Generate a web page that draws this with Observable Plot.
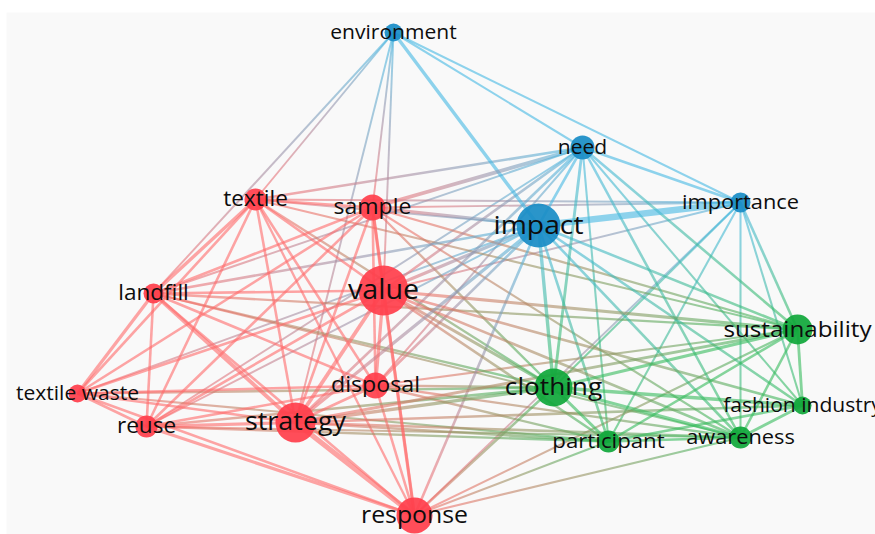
<!DOCTYPE html>
<html><head><meta charset="utf-8">
<script src="https://cdn.jsdelivr.net/npm/d3@7"></script>
<script src="https://cdn.jsdelivr.net/npm/@observablehq/plot@0.6"></script>
<style>
html,body{margin:0;padding:0;background:#fff;overflow:hidden;}
</style>
</head><body><div id="chart"></div>
<script>
// ---- data ----
const names = ["environment","need","importance","impact","textile","sample","value","landfill","disposal","textile waste","reuse","strategy","response","sustainability","clothing","fashion industry","participant","awareness"];
const nodeX = [393,582,740,538,255,372,383,153,375,77,146,295,414,797,553,802,608,740];
const nodeY = [32,147,202,225,199,207,290,293,385,393,426,422,515,329,387,405,441,437];
const nodeR = [9,12,10,22,11,13,25,10,13,9,11,20,18,15,19,9,11,11];
const cluster = ["blue","blue","blue","blue","red","red","red","red","red","red","red","red","red","green","green","green","green","green"];
const labelSize = [19.5,19.5,20.2,26.2,20.9,21.3,26.5,20.9,21.5,19.5,20.9,24.9,23,22.4,24.3,19.5,20.6,20.2];

// edges: source index, target index, link strength (line width)
const edgeSource = [
  0,0,0,1,1,2,
  0,0,0,0,0,
  1,1,1,1,1,1,1,
  2,2,2,2,
  3,3,3,3,3,3,3,3,3,
  1,1,1,1,1,
  2,2,2,2,2,
  3,3,3,3,3,
  4,4,4,4,4,4,4,4,
  5,5,5,5,5,5,5,
  6,6,6,6,6,6,
  7,7,7,7,7,
  8,8,8,8,
  9,9,9,
  10,10,
  11,
  6,6,6,6,6,
  11,11,11,11,11,
  8,8,8,8,
  5,5,5,
  4,4,
  7,7,7,
  9,9,
  10,10,10,
  12,12,12,12,
  13,13,13,13,14,14,14,15,15,16
];
const edgeTarget = [
  1,2,3,3,2,3,
  4,7,5,6,11,
  4,5,7,6,11,8,10,
  4,5,6,12,
  4,5,6,7,8,9,10,11,12,
  13,14,15,16,17,
  13,14,15,16,17,
  13,14,15,16,17,
  5,6,7,8,9,10,11,12,
  6,7,8,9,10,11,12,
  7,8,9,10,11,12,
  8,9,10,11,12,
  9,10,11,12,
  10,11,12,
  11,12,
  12,
  13,14,15,16,17,
  13,14,15,16,17,
  14,16,17,13,
  13,14,17,
  14,13,
  13,14,17,
  14,16,
  14,16,17,
  14,16,17,13,
  14,15,16,17,15,16,17,16,17,17
];
const edgeWidth = [
  1.6,1.6,2.6,2,2,5,
  1.5,1.5,1.5,1.5,1.5,
  2,3,1.5,2,2,1.5,1.5,
  1.5,1.5,1.5,1.5,
  1.5,2.5,2.5,2,2,1.5,1.5,2.5,2,
  2,2.2,1.6,1.6,2,
  2,1.6,1.6,1.6,1.6,
  2,2.6,2,2,2,
  2,2,2.6,2,2,2,2,1.8,
  2.5,2,2,2,2,2,2,
  2,2.5,2,2,3,2.5,
  2,2.5,2,3,2,
  2,2,2.2,2,
  2,2,2,
  2.5,2.5,
  4,
  2.4,2.4,2,2,2,
  2.2,2.6,2,2,2,
  2,1.8,1.8,1.6,
  1.8,1.8,1.6,
  1.8,1.6,
  1.8,1.8,1.6,
  1.8,1.6,
  2,1.8,1.6,
  2,1.6,1.6,1.6,
  2.4,2.2,2,2,2.6,2.4,2.4,2,2.2,2
];

const nodeColor = {red:"#ff3f4c", blue:"#1a8dc6", green:"#11a83b"};
const edgeColor = {red:"#ff6a6a", blue:"#45b8e3", green:"#36bb5c"};

// ---- build tables ----
const nodes = names.map((name,i)=>({name, x:nodeX[i], y:nodeY[i], r:nodeR[i], cluster:cluster[i], fs:labelSize[i]}));
const edges = edgeSource.map((s,i)=>({s, t:edgeTarget[i], w:edgeWidth[i]})).sort((a,b)=>a.w-b.w);

const chart = Plot.plot({
  width:875, height:534,
  marginLeft:6, marginTop:12, marginRight:0, marginBottom:0,
  x:{domain:[6,875], axis:null},
  y:{domain:[12,534], reverse:true, axis:null},
  r:{type:"identity"},
  style:{background:"#fff", fontFamily:"'Open Sans', sans-serif", overflow:"hidden"},
  marks:[
    Plot.frame({fill:"#f9f9f9", stroke:"none"}),
    Plot.link(edges,{
      x1:d=>nodes[d.s].x, y1:d=>nodes[d.s].y,
      x2:d=>nodes[d.t].x, y2:d=>nodes[d.t].y,
      stroke:"#999", strokeWidth:d=>d.w * 1.3, strokeOpacity:0.6
    }),
    Plot.dot(nodes,{x:"x", y:"y", r:"r", fill:d=>nodeColor[d.cluster], fillOpacity:0.93, stroke:"none"}),
    Plot.text(nodes,{x:"x", y:"y", text:"name", fontSize:"fs", fill:"#0d0d0d", textAnchor:"middle", lineAnchor:"middle"})
  ]
});
document.getElementById("chart").appendChild(chart);

// gradient strokes for links (source cluster colour -> target cluster colour)
const svg = d3.select(chart);
const defs = svg.insert("defs", ":first-child");
const sx = chart.scale("x"), sy = chart.scale("y");
svg.selectAll('g[aria-label="link"] path').each(function(_, i){
  const e = edges[i], a = nodes[e.s], b = nodes[e.t];
  const id = "lg" + i;
  const g = defs.append("linearGradient").attr("id", id).attr("gradientUnits","userSpaceOnUse")
    .attr("x1", sx.apply(a.x)).attr("y1", sy.apply(a.y))
    .attr("x2", sx.apply(b.x)).attr("y2", sy.apply(b.y));
  g.append("stop").attr("offset","0%").attr("stop-color", edgeColor[a.cluster]);
  g.append("stop").attr("offset","100%").attr("stop-color", edgeColor[b.cluster]);
  d3.select(this).attr("stroke", `url(#${id})`);
});

// labels are slightly wider than the font's natural width
svg.selectAll('g[aria-label="text"] text').each(function(){
  const t = d3.select(this);
  const tr = t.attr("transform");
  if (tr) t.attr("transform", tr + " scale(1.08,1)");
  else {
    const x = +t.attr("x") || 0, y = +t.attr("y") || 0;
    t.attr("x", null).attr("y", null).attr("transform", `translate(${x},${y}) scale(1.08,1)`);
  }
});
</script>
</body></html>
